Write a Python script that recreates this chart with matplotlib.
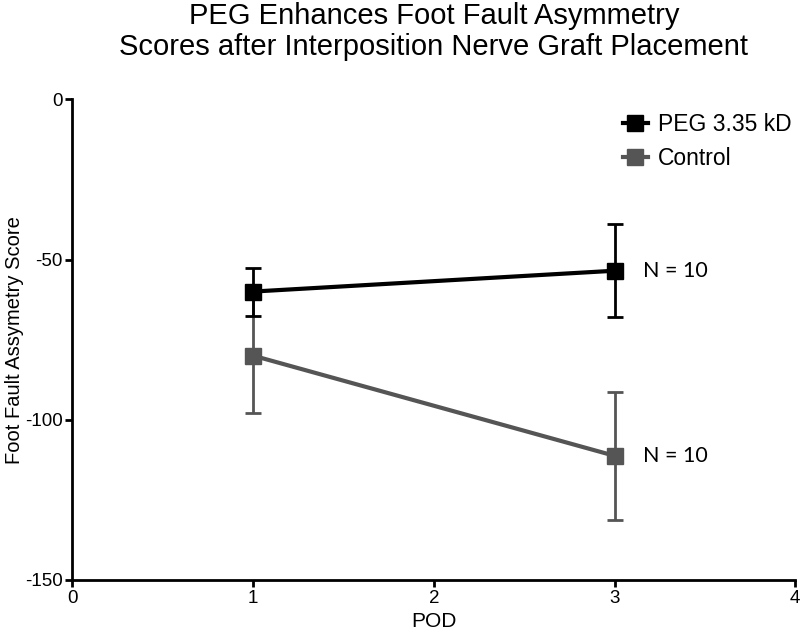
import matplotlib
matplotlib.use("Agg")
import matplotlib.pyplot as plt
from matplotlib.lines import Line2D

pod = [1, 3]
peg_mean = [-60, -53.5]
peg_err = [7.5, 14.5]
ctrl_mean = [-80, -111.25]
ctrl_err = [18, 20]
n_labels = ["N = 10", "N = 10"]
series_names = ["PEG 3.35 kD", "Control"]

plt.rcParams['font.family'] = ['Liberation Sans', 'DejaVu Sans']
plt.rcParams['axes.unicode_minus'] = False
fig = plt.figure(figsize=(8, 6.3), dpi=100)
ax = fig.add_axes([0.0905, 0.0794, 0.9035, 0.763])

gray = '#555555'
ax.errorbar(pod, ctrl_mean, yerr=ctrl_err, color=gray, marker='s', markersize=11,
            lw=3, elinewidth=2, capsize=5.6, capthick=2, zorder=2)
ax.errorbar(pod, peg_mean, yerr=peg_err, color='black', marker='s', markersize=11,
            lw=3, elinewidth=2, capsize=5.6, capthick=2, zorder=3)

ax.text(3.16, peg_mean[1], n_labels[0], family=['Lato', 'DejaVu Sans'], fontsize=15.5, va='center')
ax.text(3.16, ctrl_mean[1], n_labels[1], family=['Lato', 'DejaVu Sans'], fontsize=15.5, va='center')

ax.set_xlim(0, 4)
ax.set_ylim(-150, 0)
ax.set_xticks([0, 1, 2, 3, 4])
ax.set_yticks([-150, -100, -50, 0])
for s in ['top', 'right']:
    ax.spines[s].set_visible(False)
for s in ['left', 'bottom']:
    ax.spines[s].set_linewidth(2)
ax.tick_params(width=2, length=5, labelsize=13.5, color='black', pad=2)
ax.set_xlabel('POD', fontsize=15, labelpad=4)
ax.set_ylabel('Foot Fault Assymetry Score', fontsize=14.5)
ax.yaxis.set_label_coords(-0.067, 0.5)
ax.set_title('PEG Enhances Foot Fault Asymmetry\nScores after Interposition Nerve Graft Placement',
             fontsize=21, pad=32, linespacing=1.13)

handles = [Line2D([], [], color='black', lw=3, marker='s', markersize=11),
           Line2D([], [], color=gray, lw=3, marker='s', markersize=11)]
leg = ax.legend(handles, series_names, loc='upper right', bbox_to_anchor=(1.008, 0.99), frameon=False,
                fontsize=16.5, handlelength=1.1, handletextpad=0.45, labelspacing=0.45, borderaxespad=0)

fig.savefig('out.png', dpi=100)
